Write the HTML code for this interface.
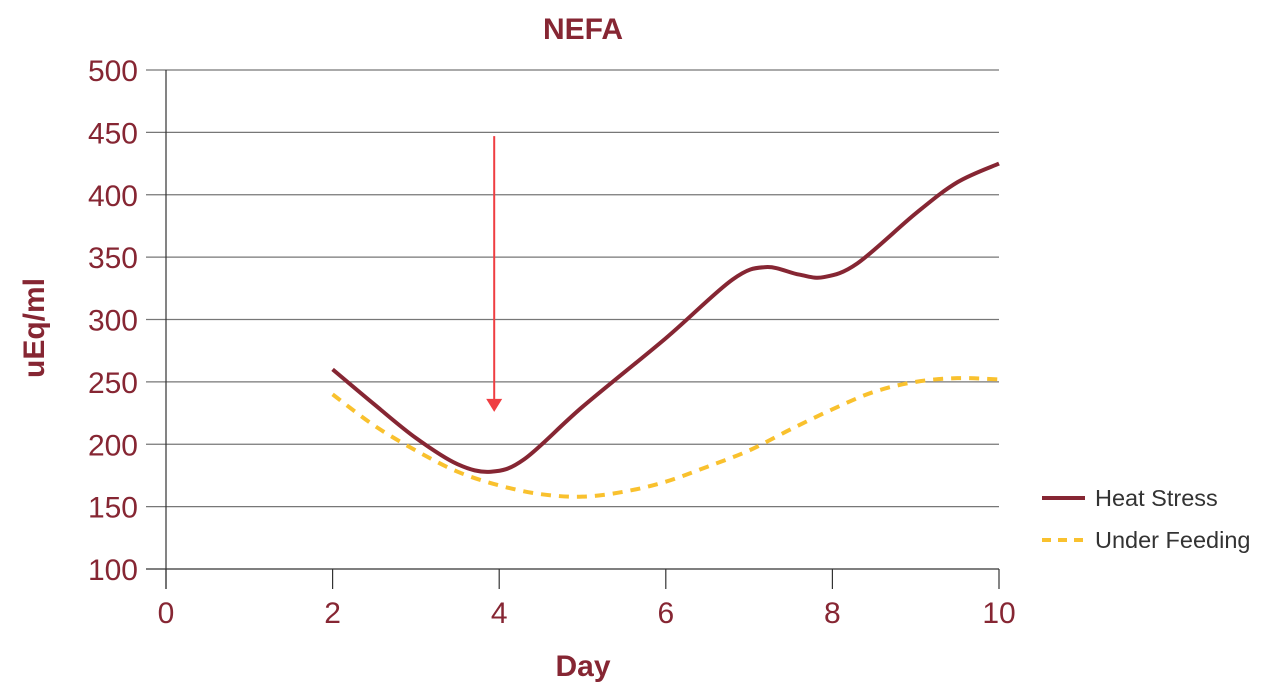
<!DOCTYPE html>
<html><head><meta charset="utf-8"><style>
body{margin:0;background:#fff;}
svg{display:block;font-family:"Liberation Sans",sans-serif;}
</style></head><body>
<svg id="chart" width="1279" height="695">
<text x="583" y="39" text-anchor="middle" font-size="30" font-weight="bold" fill="#862633">NEFA</text>
<text x="583" y="676" text-anchor="middle" font-size="30" font-weight="bold" fill="#862633">Day</text>
<text transform="translate(44,328) rotate(-90)" text-anchor="middle" font-size="30" font-weight="bold" fill="#862633">uEq/ml</text>
<g id="grid"></g><g id="series"></g>
<g>
<line x1="1042" y1="498" x2="1085" y2="498" stroke="#862633" stroke-width="4"/>
<text x="1095" y="506" font-size="23.5" fill="#333">Heat Stress</text>
<line x1="1042" y1="540" x2="1085" y2="540" stroke="#f9c12e" stroke-width="4" stroke-dasharray="9,7"/>
<text x="1095" y="548" font-size="23.5" fill="#333">Under Feeding</text>
</g>
</svg>
<script>
const xTicks=[0,2,4,6,8,10];
const yTicks=[100,150,200,250,300,350,400,450,500];
const heatDays=[2,2.5,3,3.5,3.9,4.3,5,6,6.8,7.2,7.6,7.9,8.3,9,9.5,10];
const heatValues=[260,232,205,184,178,188,230,285,332,342,336,334,345,385,410,425];
const feedDays=[2,2.5,3,3.5,4,4.5,5,5.5,6,6.5,7,7.5,8,8.5,9,9.5,10];
const feedValues=[240,215,195,178,167,160,158,162,170,182,195,212,228,242,250,253,252];
const arrowDay=3.94, arrowFrom=447, arrowTo=226;
const NS="http://www.w3.org/2000/svg";
const xs=d=>166+(d-0)*83.3;
const ys=v=>569-(v-100)*1.2475;
function mk(t,a,p){const e=document.createElementNS(NS,t);for(const k in a)e.setAttribute(k,a[k]);p.appendChild(e);return e;}
const g=document.getElementById('grid');
yTicks.forEach(v=>{
 const l=mk('line',{x1:146,x2:999,y1:ys(v),y2:ys(v),stroke:v===100?'#333':'#777','stroke-width':1.2},g);
 
 
 const t=mk('text',{x:138,y:ys(v)+11,'text-anchor':'end','font-size':30,fill:'#862633'},g);t.textContent=v;
 
 
});
const ax=mk('line',{x1:166,x2:166,y1:70,y2:589,stroke:'#333','stroke-width':1.2},g);


xTicks.forEach(d=>{
 const l=mk('line',{x1:xs(d),x2:xs(d),y1:569,y2:589,stroke:'#333','stroke-width':1.2},g);
 
 
 const t=mk('text',{x:xs(d),y:623,'text-anchor':'middle','font-size':30,fill:'#862633'},g);t.textContent=d;
 
 
});
function path(dx,vals){
 const p=dx.map((d,i)=>[xs(d),ys(vals[i])]);
 let s='M'+p[0][0]+','+p[0][1];
 for(let i=0;i<p.length-1;i++){
  const p0=p[i-1]||p[i],p1=p[i],p2=p[i+1],p3=p[i+2]||p2;
  s+=' C'+(p1[0]+(p2[0]-p0[0])/6)+','+(p1[1]+(p2[1]-p0[1])/6)+' '+(p2[0]-(p3[0]-p1[0])/6)+','+(p2[1]-(p3[1]-p1[1])/6)+' '+p2[0]+','+p2[1];
 }
 return s;
}
const sg=document.getElementById('series');
const f=mk('path',{d:path(feedDays,feedValues),fill:'none',stroke:'#f9c12e','stroke-width':4,'stroke-dasharray':'10,8'},sg);


const h=mk('path',{d:path(heatDays,heatValues),fill:'none',stroke:'#862633','stroke-width':4},sg);


const a=mk('line',{x1:xs(arrowDay),x2:xs(arrowDay),y1:ys(arrowFrom),y2:ys(arrowTo)-10,stroke:'#ef3e42','stroke-width':2},sg);


const ah=mk('polygon',{points:(xs(arrowDay)-8)+','+(ys(arrowTo)-13)+' '+(xs(arrowDay)+8)+','+(ys(arrowTo)-13)+' '+xs(arrowDay)+','+ys(arrowTo),fill:'#ef3e42'},sg);


</script>
</body></html>
